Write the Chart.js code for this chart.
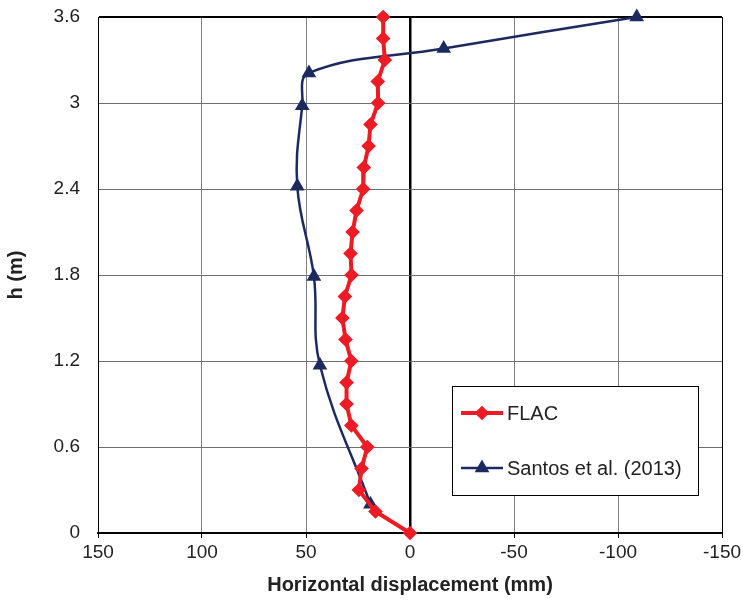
<!DOCTYPE html>
<html>
<head>
<meta charset="utf-8">
<script src="https://cdn.jsdelivr.net/npm/chart.js@4/dist/chart.umd.min.js"></script>
<style>
  body { margin: 0; background: #fff; }
  #wrap { width: 743px; height: 601px; }
</style>
</head>
<body>
<div id="wrap"><canvas id="chart" width="743" height="601"></canvas></div>
<script>
// FLAC results, read top to bottom (h in m, displacement in mm)
const flacH = [3.6, 3.45, 3.3, 3.15, 3.0, 2.85, 2.7, 2.55, 2.4, 2.25, 2.1, 1.95, 1.8,
               1.65, 1.5, 1.35, 1.2, 1.05, 0.9, 0.75, 0.6, 0.45, 0.3, 0.15, 0];
const flacX = [12.9, 12.9, 12.1, 15.5, 15.3, 19.0, 19.9, 22.2, 22.5, 25.7, 27.6, 28.6, 28.1,
               31.3, 32.5, 31.0, 28.2, 30.5, 30.5, 28.2, 20.5, 23.3, 24.6, 16.6, 0];

// Santos et al. (2013)
const santosH = [3.6, 3.38, 3.21, 2.98, 2.42, 1.79, 1.17, 0.2];
const santosX = [-109, -16.2, 48.6, 51.8, 54.2, 46.2, 43.3, 19.0];

const xTicks = [150, 100, 50, 0, -50, -100, -150];
const yTicks = [0, 0.6, 1.2, 1.8, 2.4, 3, 3.6];

const RED = '#ED1C24';
const NAVY = '#1C2A5F';
const FONT = 'Liberation Sans, Arial, sans-serif';

const toPts = (xs, hs) => xs.map((x, i) => ({ x: x, y: hs[i] }));

// legend box inside the plot, like the Excel original
const boxLegend = {
  id: 'boxLegend',
  afterDraw(chart) {
    const ctx = chart.ctx;
    const x0 = 452, y0 = 386, w = 246, h = 109;
    ctx.save();
    ctx.fillStyle = '#fff';
    ctx.fillRect(x0, y0, w, h);
    ctx.strokeStyle = '#000';
    ctx.lineWidth = 1;
    ctx.strokeRect(x0 + 0.5, y0 + 0.5, w, h);
    const rows = [413, 468];
    chart.data.datasets.forEach((ds, i) => {
      const y = rows[i];
      ctx.strokeStyle = ds.borderColor;
      ctx.lineWidth = ds.borderWidth;
      ctx.beginPath();
      ctx.moveTo(461, y);
      ctx.lineTo(503, y);
      ctx.stroke();
      ctx.fillStyle = ds.pointBackgroundColor;
      ctx.strokeStyle = ds.pointBorderColor;
      Chart.helpers.drawPoint(ctx, {
        pointStyle: ds.pointStyle, radius: ds.pointRadius, rotation: 0,
        borderWidth: 1
      }, 482, y);
      ctx.fillStyle = '#222';
      ctx.font = '20px ' + FONT;
      ctx.textBaseline = 'middle';
      ctx.textAlign = 'left';
      ctx.fillText(ds.label, 507, y + 1);
    });
    ctx.restore();
  }
};

new Chart(document.getElementById('chart'), {
  type: 'scatter',
  data: {
    datasets: [
      {
        label: 'FLAC',
        data: toPts(flacX, flacH),
        showLine: true,
        clip: false,
        borderColor: RED,
        backgroundColor: RED,
        pointBackgroundColor: RED,
        pointBorderColor: RED,
        borderWidth: 4,
        pointStyle: 'rectRot',
        pointRadius: 4.5,
        tension: 0
      },
      {
        label: 'Santos et al. (2013)',
        data: toPts(santosX, santosH),
        showLine: true,
        clip: false,
        borderColor: NAVY,
        backgroundColor: NAVY,
        pointBackgroundColor: NAVY,
        pointBorderColor: NAVY,
        borderWidth: 2.5,
        pointStyle: 'triangle',
        pointRadius: 6,
        tension: 0.4
      }
    ]
  },
  options: {
    responsive: false,
    animation: false,
    layout: { padding: { top: 17, right: 21, left: 0, bottom: 0 } },
    plugins: { legend: { display: false }, tooltip: { enabled: false } },
    scales: {
      x: {
        type: 'linear',
        reverse: true,
        min: -150,
        max: 150,
        afterBuildTicks: s => { s.ticks = xTicks.map(v => ({ value: v })); },
        afterFit: s => { s.height = 68; s.paddingLeft = 0; s.paddingRight = 0; },
        ticks: {
          color: '#222',
          font: { family: FONT, size: 19 },
          padding: 3,
          maxRotation: 0,
          callback: v => String(v)
        },
        grid: {
          color: c => (c.tick && (c.tick.value === 0 || Math.abs(c.tick.value) === 150)) ? '#000' : '#808080',
          lineWidth: c => (c.tick && c.tick.value === 0) ? 2.5 : 1,
          tickColor: '#000',
          tickLength: 5
        },
        border: { color: '#000', width: 2 },
        title: {
          display: true,
          text: 'Horizontal displacement (mm)',
          color: '#222',
          font: { family: FONT, size: 20, weight: 'bold' },
          padding: { top: 4 }
        }
      },
      y: {
        type: 'linear',
        min: 0,
        max: 3.6,
        afterBuildTicks: s => { s.ticks = yTicks.map(v => ({ value: v })); },
        afterFit: s => { s.width = 98; s.paddingTop = 0; s.paddingBottom = 0; },
        ticks: {
          color: '#222',
          font: { family: FONT, size: 19 },
          padding: 18,
          callback: v => String(+Number(v).toFixed(1))
        },
        grid: {
          color: c => (c.tick && c.tick.value === 3.6) ? '#000' : '#707070',
          lineWidth: c => (c.tick && c.tick.value === 3.6) ? 2 : 1,
          drawTicks: false
        },
        border: { color: '#000', width: 1 },
        title: {
          display: true,
          text: 'h (m)',
          color: '#222',
          font: { family: FONT, size: 20, weight: 'bold' },
          padding: { bottom: 0 }
        }
      }
    }
  },
  plugins: [boxLegend]
});
</script>
</body>
</html>
